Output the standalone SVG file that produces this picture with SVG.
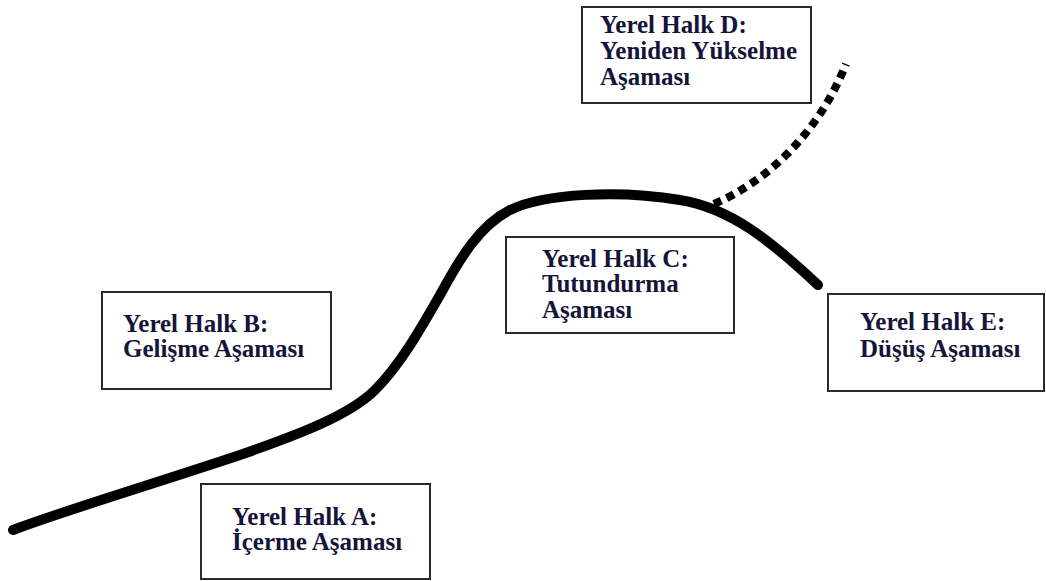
<svg xmlns="http://www.w3.org/2000/svg" width="1046" height="581" viewBox="0 0 1046 581">
<style>
.box{fill:#fff;stroke:#2a2a2a;stroke-width:2}
text{font-family:'Liberation Serif','DejaVu Serif',serif;font-weight:700;font-size:25px;fill:#15153a}
.curve{fill:none;stroke:#000;stroke-width:10;stroke-linecap:round;stroke-linejoin:round}
.dots{fill:none;stroke:#000;stroke-width:8;stroke-dasharray:8 6}
</style>
<rect width="1046" height="581" fill="#fff"/>
<g id="connectors">
<path class="curve" d="M13,530 C60,512 150,485 240,455 C300,434 350,415 375,390 C400,365 420,330 440,295 C460,258 480,225 510,210 C545,193 620,190 680,200 C730,208 770,240 818,285"/>
<path class="dots" d="M714,204 C770,180 820,130 846,64"/>
</g>
<g id="nodeA">
<rect class="box" x="201" y="484" width="229" height="95"/>
<text x="232" y="525">Yerel Halk A:</text>
<text x="232" y="550">İçerme Aşaması</text>
</g>
<g id="nodeB">
<rect class="box" x="102" y="292" width="229" height="97"/>
<text x="123" y="332">Yerel Halk B:</text>
<text x="123" y="357">Gelişme Aşaması</text>
</g>
<g id="nodeC">
<rect class="box" x="506" y="237" width="228" height="96"/>
<text x="542" y="267">Yerel Halk C:</text>
<text x="542" y="292">Tutundurma</text>
<text x="542" y="318">Aşaması</text>
</g>
<g id="nodeD">
<rect class="box" x="582" y="7" width="229" height="96"/>
<text x="600" y="33">Yerel Halk D:</text>
<text x="600" y="59">Yeniden Yükselme</text>
<text x="600" y="85">Aşaması</text>
</g>
<g id="nodeE">
<rect class="box" x="828" y="294" width="216" height="97"/>
<text x="860" y="330">Yerel Halk E:</text>
<text x="860" y="357">Düşüş Aşaması</text>
</g>
</svg>
